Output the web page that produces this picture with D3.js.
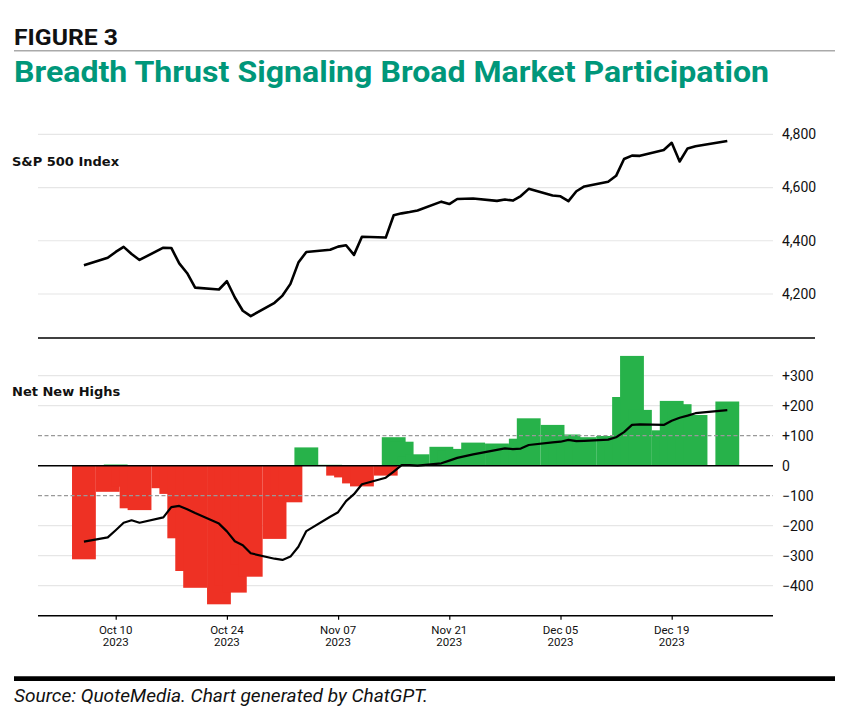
<html>
  <head>
    <meta charset="utf-8">
    <title>Figure 3</title>
    <script src="https://d3js.org/d3.v7.min.js"></script>
    <style>
      body { margin: 0; background: #fff; }
    </style>
  </head>
  <body>

    <svg id="grafico" width="851" height="724"></svg>

    <script>
    // trading days
    const dates = ["2023-10-06","2023-10-09","2023-10-10","2023-10-11","2023-10-12","2023-10-13",
      "2023-10-16","2023-10-17","2023-10-18","2023-10-19","2023-10-20",
      "2023-10-23","2023-10-24","2023-10-25","2023-10-26","2023-10-27",
      "2023-10-30","2023-10-31","2023-11-01","2023-11-02","2023-11-03",
      "2023-11-06","2023-11-07","2023-11-08","2023-11-09","2023-11-10",
      "2023-11-13","2023-11-14","2023-11-15","2023-11-16","2023-11-17",
      "2023-11-20","2023-11-21","2023-11-22","2023-11-24",
      "2023-11-27","2023-11-28","2023-11-29","2023-11-30","2023-12-01",
      "2023-12-04","2023-12-05","2023-12-06","2023-12-07","2023-12-08",
      "2023-12-11","2023-12-12","2023-12-13","2023-12-14","2023-12-15",
      "2023-12-18","2023-12-19","2023-12-20","2023-12-21","2023-12-22",
      "2023-12-26"];

    // S&P 500 close
    const spx = [4308,4336,4358,4377,4350,4328,
      4374,4373,4315,4278,4224,
      4217,4248,4187,4137,4117,
      4167,4194,4238,4318,4358,
      4366,4378,4383,4347,4415,
      4412,4496,4503,4508,4514,
      4547,4538,4557,4559,
      4550,4555,4551,4568,4595,
      4570,4567,4549,4586,4604,
      4622,4644,4707,4720,4719,
      4741,4768,4698,4747,4755,
      4775];

    // net new highs
    const netNewHighs = [-312,-87,4,-70,-142,-148,
      -75,-94,-242,-351,-407,
      -462,-400,-423,-330,-370,
      -244,-110,-122,0,61,
      3,-33,-39,-59,-69,
      -33,95,80,30,38,
      63,50,56,77,
      74,70,65,90,158,
      136,100,104,90,95,
      99,90,229,366,186,
      118,216,205,160,169,
      214];

    // smoothed net new highs
    const netNewHighsAvg = [-253,-239,-215,-190,-182,-190,
      -172,-138,-134,-145,-158,
      -193,-219,-252,-265,-292,
      -310,-314,-303,-270,-218,
      -170,-155,-118,-95,-62,
      -40,-20,2,2,0,
      8,17,26,38,
      53,58,55,57,69,
      78,80,86,82,83,
      87,95,112,136,138,
      136,150,160,167,175,
      185];

    const spxTicks = [4200, 4400, 4600, 4800];
    const nnhTicks = [-400, -300, -200, -100, 0, 100, 200, 300];
    const nnhDashed = [-100, 100];
    const xTickDates = ["2023-10-10","2023-10-24","2023-11-07","2023-11-21","2023-12-05","2023-12-19"];

    const svg = d3.select("#grafico");
    const parse = d3.utcParse("%Y-%m-%d");
    const days = dates.map(parse);

    const left = 38, right = 773, spineRight = 815;
    const topPanel = {top: 110, bottom: 338};
    const botPanel = {top: 338, bottom: 615.7};

    const x = d3.scaleUtc()
      .domain([parse("2023-10-10"), parse("2023-12-19")])
      .range([115.7, 671.7]);

    const yTop = d3.scaleLinear().domain([4034.7, 4891.3]).range([topPanel.bottom, topPanel.top]);
    const yBot = d3.scaleLinear().domain([-500, 425.7]).range([botPanel.bottom, botPanel.top]);

    const dayMs = 864e5;
    const barW = x(new Date(days[0].getTime() + 3 * dayMs)) - x(days[0]);

    // header
    svg.append("text").attr("x", 14).attr("y", 45)
      .attr("font-family", "Roboto").attr("font-weight", 700).attr("font-size", 22)
      .attr("textLength", 104).attr("lengthAdjust", "spacingAndGlyphs")
      .attr("fill", "#111").text("FIGURE 3");
    svg.append("line").attr("x1", 14).attr("x2", 835).attr("y1", 50.7).attr("y2", 50.7)
      .attr("stroke", "#aaa").attr("stroke-width", 1.5);
    svg.append("text").attr("x", 14).attr("y", 81.5)
      .attr("font-family", "Roboto").attr("font-weight", 700).attr("font-size", 30)
      .attr("textLength", 755).attr("lengthAdjust", "spacingAndGlyphs")
      .attr("fill", "#00977a").text("Breadth Thrust Signaling Broad Market Participation");

    // top panel grid
    svg.append("g").selectAll("line").data(spxTicks).enter().append("line")
      .attr("x1", left).attr("x2", right)
      .attr("y1", d => yTop(d)).attr("y2", d => yTop(d))
      .attr("stroke", "#e6e6e6").attr("stroke-width", 1.2);
    svg.append("g").selectAll("text").data(spxTicks).enter().append("text")
      .attr("x", 782).attr("y", d => yTop(d)).attr("dy", "0.35em")
      .attr("font-family", "Roboto").attr("font-size", 14).attr("fill", "#111")
      .text(d => d3.format(",")(d));

    const spxLine = d3.line().x((d, i) => x(days[i])).y(d => yTop(d));
    svg.append("path").datum(spx).attr("d", spxLine)
      .attr("fill", "none").attr("stroke", "#000").attr("stroke-width", 2.6)
      .attr("stroke-linejoin", "round");

    svg.append("text").attr("x", 12).attr("y", 166)
      .attr("font-family", "DejaVu Sans").attr("font-weight", 700).attr("font-size", 13)
      .attr("fill", "#111").text("S&P 500 Index");

    // bottom panel grid
    svg.append("g").selectAll("line").data(nnhTicks.filter(d => d !== 0 && nnhDashed.indexOf(d) < 0)).enter().append("line")
      .attr("x1", left).attr("x2", right)
      .attr("y1", d => yBot(d)).attr("y2", d => yBot(d))
      .attr("stroke", "#e6e6e6").attr("stroke-width", 1.2);

    // bars, 3 days wide, overlapping
    svg.append("g").selectAll("rect").data(netNewHighs).enter().append("rect")
      .attr("x", (d, i) => x(days[i]) - barW / 2)
      .attr("width", barW)
      .attr("y", d => yBot(Math.max(0, d)))
      .attr("height", d => Math.abs(yBot(d) - yBot(0)))
      .attr("fill", d => d >= 0 ? "#27b24a" : "#ee3124");

    svg.append("g").selectAll("line").data(nnhDashed).enter().append("line")
      .attr("x1", left).attr("x2", right)
      .attr("y1", d => yBot(d)).attr("y2", d => yBot(d))
      .attr("stroke", "#999").attr("stroke-width", 1.2).attr("stroke-dasharray", "4,2.5");

    svg.append("line").attr("x1", left).attr("x2", right)
      .attr("y1", yBot(0)).attr("y2", yBot(0))
      .attr("stroke", "#000").attr("stroke-width", 1.6);

    const avgLine = d3.line().x((d, i) => x(days[i])).y(d => yBot(d));
    svg.append("path").datum(netNewHighsAvg).attr("d", avgLine)
      .attr("fill", "none").attr("stroke", "#000").attr("stroke-width", 2.2)
      .attr("stroke-linejoin", "round");

    const fmtNnh = d => d > 0 ? "+" + d : d < 0 ? "\u2212" + Math.abs(d) : "0";
    svg.append("g").selectAll("text").data(nnhTicks).enter().append("text")
      .attr("x", 782).attr("y", d => yBot(d)).attr("dy", "0.35em")
      .attr("font-family", "Roboto").attr("font-size", 14).attr("fill", "#111")
      .text(fmtNnh);

    svg.append("text").attr("x", 12).attr("y", 396)
      .attr("font-family", "DejaVu Sans").attr("font-weight", 700).attr("font-size", 13)
      .attr("fill", "#111").text("Net New Highs");

    // shared spine between panels
    svg.append("line").attr("x1", left).attr("x2", spineRight)
      .attr("y1", 338).attr("y2", 338).attr("stroke", "#000").attr("stroke-width", 1.4);

    // x axis
    const xAxis = d3.axisBottom(x)
      .tickValues(xTickDates.map(parse))
      .tickSize(4)
      .tickFormat("");
    const gx = svg.append("g").attr("transform", "translate(0," + botPanel.bottom + ")").call(xAxis);
    gx.select(".domain").remove();
    gx.selectAll(".tick line").attr("stroke", "#000").attr("stroke-width", 1.2);
    svg.append("line").attr("x1", left).attr("x2", right)
      .attr("y1", botPanel.bottom).attr("y2", botPanel.bottom)
      .attr("stroke", "#000").attr("stroke-width", 1.4);

    const lbl = svg.append("g").selectAll("text").data(xTickDates.map(parse)).enter().append("text")
      .attr("x", d => x(d)).attr("y", 633.5)
      .attr("text-anchor", "middle")
      .attr("font-family", "Roboto").attr("font-size", 11.5).attr("fill", "#111");
    lbl.append("tspan").attr("x", d => x(d)).text(d3.utcFormat("%b %d"));
    lbl.append("tspan").attr("x", d => x(d)).attr("dy", 12.5).text(d3.utcFormat("%Y"));

    // footer
    svg.append("line").attr("x1", 14).attr("x2", 835).attr("y1", 678.7).attr("y2", 678.7)
      .attr("stroke", "#000").attr("stroke-width", 4.7);
    svg.append("text").attr("x", 14).attr("y", 701.5)
      .attr("font-family", "Roboto").attr("font-style", "italic").attr("font-size", 18)
      .attr("textLength", 414).attr("lengthAdjust", "spacingAndGlyphs")
      .attr("fill", "#111").text("Source: QuoteMedia. Chart generated by ChatGPT.");
    </script>

  </body>
</html>
